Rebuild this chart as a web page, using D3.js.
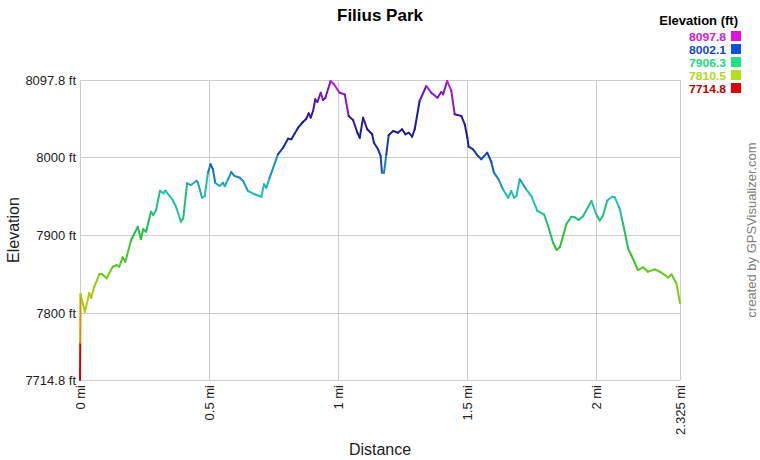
<!DOCTYPE html>
<html>
<head>
<meta charset="utf-8">
<script src="https://cdn.jsdelivr.net/npm/d3@7"></script>
<style>
  html, body { margin: 0; padding: 0; background: #fff; }
  svg { display: block; font-family: Arial, "Liberation Sans", sans-serif; }
</style>
</head>
<body>
<svg id="chart" width="760" height="460"></svg>
<script>
// ---- Data ----
const distanceMi = [
  0, 0.001, 0.002, 0.019, 0.036, 0.043, 0.055, 0.075, 0.085, 0.103, 0.127, 0.142, 0.152, 0.165, 0.176,
  0.198, 0.224, 0.236, 0.245, 0.256, 0.275, 0.284, 0.295, 0.310, 0.323, 0.331, 0.359, 0.372, 0.391, 0.400,
  0.415, 0.430, 0.452, 0.457, 0.473, 0.483, 0.496, 0.506, 0.515, 0.524, 0.541, 0.554, 0.561, 0.574, 0.586,
  0.599, 0.619, 0.632, 0.651, 0.677, 0.703, 0.713, 0.722, 0.735, 0.767, 0.787, 0.806, 0.819, 0.845, 0.864,
  0.877, 0.886, 0.894, 0.903, 0.912, 0.920, 0.933, 0.942, 0.951, 0.971, 0.984, 1.006, 1.026, 1.041, 1.058,
  1.075, 1.084, 1.097, 1.113, 1.132, 1.139, 1.155, 1.165, 1.170, 1.178, 1.187, 1.196, 1.213, 1.232, 1.248,
  1.261, 1.274, 1.287, 1.297, 1.316, 1.342, 1.361, 1.385, 1.400, 1.407, 1.423, 1.439, 1.452, 1.478, 1.491,
  1.501, 1.506, 1.523, 1.540, 1.555, 1.578, 1.594, 1.604, 1.622, 1.639, 1.659, 1.671, 1.682, 1.691, 1.704,
  1.729, 1.749, 1.772, 1.798, 1.814, 1.833, 1.847, 1.860, 1.885, 1.904, 1.917, 1.932, 1.949, 1.982, 2.000,
  2.014, 2.027, 2.043, 2.062, 2.072, 2.091, 2.104, 2.124, 2.136, 2.162, 2.182, 2.201, 2.227, 2.246, 2.266,
  2.279, 2.292, 2.311, 2.325
];
const elevationFt = [
  7714.8, 7762.0, 7824.6, 7801.6, 7825.9, 7819.5, 7833.5, 7850.1, 7850.1, 7844.6, 7859.4, 7861.6, 7859.4, 7871.4, 7865.8,
  7893.5, 7910.5, 7894.4, 7907.2, 7904.1, 7929.7, 7925.4, 7931.8, 7956.5, 7953.2, 7956.5, 7944.6, 7936.0, 7916.9, 7921.2,
  7965.9, 7963.7, 7969.2, 7966.7, 7947.5, 7949.7, 7979.5, 7990.2, 7983.8, 7966.7, 7962.5, 7966.7, 7962.5, 7971.0, 7980.3,
  7975.2, 7973.1, 7968.9, 7956.1, 7951.9, 7948.8, 7964.6, 7960.3, 7973.1, 8002.9, 8011.4, 8022.9, 8022.1, 8036.9, 8044.2,
  8048.4, 8055.3, 8049.7, 8058.2, 8073.2, 8069.7, 8081.6, 8072.3, 8075.2, 8096.5, 8092.3, 8081.6, 8079.5, 8051.8, 8046.7,
  8030.5, 8024.1, 8049.7, 8034.9, 8028.5, 8017.8, 8009.3, 8000.8, 7979.5, 7979.5, 8002.9, 8027.2, 8032.7, 8030.5, 8034.9,
  8028.5, 8030.5, 8025.4, 8034.9, 8071.0, 8090.1, 8081.6, 8075.2, 8082.5, 8079.5, 8096.5, 8083.8, 8054.0, 8051.8, 8041.2,
  8024.1, 8012.6, 8009.3, 8001.7, 7996.6, 8005.0, 7993.1, 7979.5, 7971.0, 7958.3, 7947.5, 7956.1, 7947.5, 7949.7, 7971.0,
  7958.3, 7949.7, 7930.6, 7926.3, 7911.4, 7890.1, 7880.8, 7885.0, 7914.0, 7923.3, 7922.5, 7919.1, 7923.8, 7943.3, 7926.7,
  7918.4, 7924.8, 7944.0, 7948.8, 7948.0, 7934.0, 7914.9, 7882.9, 7874.4, 7855.2, 7858.7, 7853.1, 7856.1, 7853.1, 7848.9,
  7845.7, 7849.5, 7838.3, 7812.7
];
const yTickValues = [7714.8, 7800, 7900, 8000, 8097.8];
const yTickLabels = ["7714.8 ft", "7800 ft", "7900 ft", "8000 ft", "8097.8 ft"];
const xTickValues = [0, 0.5, 1, 1.5, 2, 2.325];
const xTickLabels = ["0 mi", "0.5 mi", "1 mi", "1.5 mi", "2 mi", "2.325 mi"];
const legendValues = ["8097.8", "8002.1", "7906.3", "7810.5", "7714.8"];
const legendColors = ["#e010e0", "#1050e0", "#20e080", "#b0e020", "#e00000"];
const legendTextColors = ["#d020d0", "#1048d0", "#20d880", "#b0d820", "#c00000"];

// ---- Layout ----
const svg = d3.select("#chart");
const m = { left: 80, right: 680, top: 80, bottom: 380 };
const x = d3.scaleLinear().domain([0, 2.325]).range([m.left, m.right]);
const y = d3.scaleLinear().domain([7714.8, 8097.8]).range([m.bottom, m.top]);

// colour by elevation
const colorStops = [7714.8, 7755, 7790, 7825, 7860, 7900, 7930, 7955, 7985, 8010, 8040, 8070, 8097.8];
const colorRange = ["#d00000", "#d88000", "#c8c800", "#a0d010", "#50c820", "#20c040", "#20c090", "#20c0c0",
                    "#1870b8", "#1830a0", "#201890", "#6018b0", "#c020d0"];
const color = d3.scaleLinear().domain(colorStops).range(colorRange).clamp(true);

// grid
const grid = svg.append("g");
grid.selectAll("line.h").data(yTickValues).join("line")
  .attr("x1", m.left).attr("x2", m.right)
  .attr("y1", d => Math.round(y(d)) + 0.5).attr("y2", d => Math.round(y(d)) + 0.5)
  .attr("stroke", "#cccccc").attr("stroke-width", 1);
grid.selectAll("line.v").data(xTickValues).join("line")
  .attr("y1", m.top).attr("y2", m.bottom)
  .attr("x1", d => Math.round(x(d)) + 0.5).attr("x2", d => Math.round(x(d)) + 0.5)
  .attr("stroke", "#cccccc").attr("stroke-width", 1);

// y labels
svg.append("g").selectAll("text").data(yTickValues).join("text")
  .attr("x", 76).attr("y", d => y(d) + 5)
  .attr("text-anchor", "end").attr("font-size", 13).attr("fill", "#222")
  .text((d, i) => yTickLabels[i]);

// x labels (rotated)
svg.append("g").selectAll("text").data(xTickValues).join("text")
  .attr("transform", d => `translate(${x(d) + 5},385) rotate(-90)`)
  .attr("text-anchor", "end").attr("font-size", 13).attr("fill", "#222")
  .text((d, i) => xTickLabels[i]);

// line segments
const pts = distanceMi.map((d, i) => [d, elevationFt[i]]);
const segs = d3.pairs(pts);
svg.append("g").selectAll("line").data(segs).join("line")
  .attr("x1", d => x(d[0][0])).attr("y1", d => y(d[0][1]))
  .attr("x2", d => x(d[1][0])).attr("y2", d => y(d[1][1]))
  .attr("stroke", d => color(d[0][1]))
  .attr("stroke-width", 2).attr("stroke-linecap", "round");

// titles
svg.append("text").attr("x", 380).attr("y", 21).attr("text-anchor", "middle")
  .attr("font-size", 17).attr("font-weight", "bold").attr("fill", "#000").text("Filius Park");
svg.append("text").attr("transform", "translate(19,230) rotate(-90)").attr("text-anchor", "middle")
  .attr("font-size", 16).attr("fill", "#222").text("Elevation");
svg.append("text").attr("x", 380).attr("y", 455).attr("text-anchor", "middle")
  .attr("font-size", 16).attr("fill", "#222").text("Distance");
svg.append("text").attr("transform", "translate(756,230) rotate(-90)").attr("text-anchor", "middle")
  .attr("font-size", 13).attr("fill", "#808080").text("created by GPSVisualizer.com");

// legend
const lg = svg.append("g");
lg.append("text").attr("x", 738).attr("y", 25).attr("text-anchor", "end")
  .attr("font-size", 13).attr("font-weight", "bold").attr("fill", "#000").text("Elevation (ft)");
const rowY = i => 36 + i * 13;
lg.selectAll("rect").data(legendValues).join("rect")
  .attr("x", 731).attr("y", (d, i) => rowY(i) - 5).attr("width", 10).attr("height", 10)
  .attr("fill", (d, i) => legendColors[i]);
lg.selectAll("text.v").data(legendValues).join("text").attr("class", "v")
  .attr("x", 726).attr("y", (d, i) => rowY(i) + 4.5).attr("text-anchor", "end")
  .attr("font-size", 11).attr("font-weight", "bold").attr("fill", (d, i) => legendTextColors[i])
  .attr("textLength", 37).attr("lengthAdjust", "spacingAndGlyphs")
  .text(d => d);
</script>
</body>
</html>
